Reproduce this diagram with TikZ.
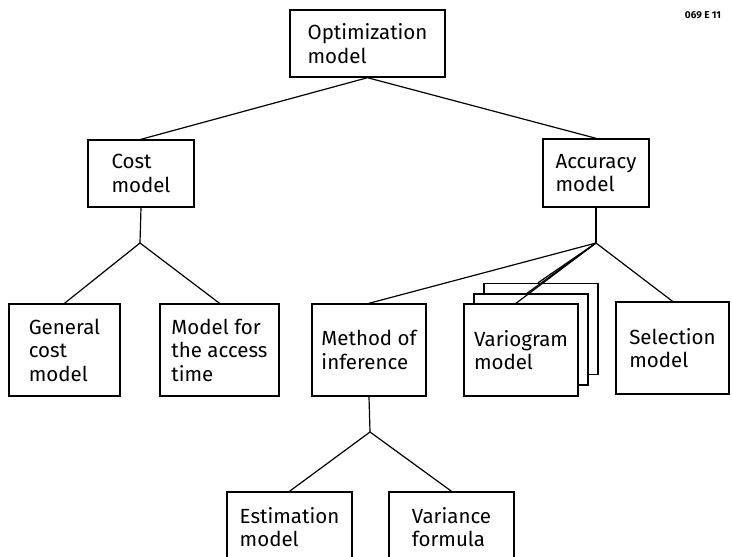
\documentclass[tikz,border=0pt]{standalone}
\usepackage{fontspec}
\setmainfont{Fira Sans}
\begin{document}
\begin{tikzpicture}[x=1pt,y=-1pt,
  box/.style={draw=black,line width=1.4pt,fill=white,rectangle,inner sep=0pt,
    align=left,font=\fontsize{20.5}{23.5}\selectfont},
  link/.style={draw=black,line width=1.2pt,line join=round}]
\useasboundingbox (0,0) rectangle (732,557);
\clip (0,0) rectangle (732,557);

% top level
\node[box,minimum width=155,minimum height=67] (opt) at (367.5,43.5) {Optimization\\model};

% second level
\node[box,minimum width=106,minimum height=67] (cost) at (141,173.5) {Cost\\model};
\node[box,minimum width=106,minimum height=68] (acc) at (596,173) {Accuracy\\model};

% cost branch
\node[box,minimum width=111,minimum height=92] (gen) at (64.5,350) {General\\cost\\model};
\node[box,minimum width=119,minimum height=92] (access) at (219.5,350) {Model for\\the access\\time};

% accuracy branch
\node[box,minimum width=114,minimum height=92] (meth) at (369,350) {Method of\\inference};
\node[box,minimum width=114,minimum height=91] (varC) at (541,329) {};
\node[box,minimum width=114,minimum height=91] (varB) at (531,339.5) {};
\node[box,minimum width=114,minimum height=92] (varA) at (521,350) {Variogram\\model};
\node[box,minimum width=113,minimum height=92] (sel) at (672.5,348) {Selection\\model};

% inference branch
\node[box,minimum width=125,minimum height=70] (est) at (289.5,527) {Estimation\\model};
\node[box,minimum width=125,minimum height=70] (var) at (451.5,527) {Variance\\formula};

% junction points
\coordinate (jcost) at (140,243);
\coordinate (jacc) at (596,243);
\coordinate (jmeth) at (370,432);

% connectors
\draw[link] (cost.north) -- (opt.south) -- (acc.north);
\draw[link] (cost.south) -- (jcost);
\draw[link] (gen.north) -- (jcost) -- (access.north);
\draw[link] (acc.south) -- (jacc);
\draw[link] (meth.north) -- (jacc) -- (sel.north);
\draw[link] (jacc) -- ([xshift=-5pt]varA.north);
\draw[link] (jacc) -- ([xshift=-4pt]varB.north);
\draw[link] (jacc) -- ([xshift=-3pt]varC.north);
\draw[link] (meth.south) -- (jmeth);
\draw[link] (est.north) -- (jmeth) -- (var.north);

% figure code
\node[font=\fontsize{10}{12}\selectfont\bfseries,inner sep=0pt] (code) at (703,15) {069 E 11};
\end{tikzpicture}
\end{document}
